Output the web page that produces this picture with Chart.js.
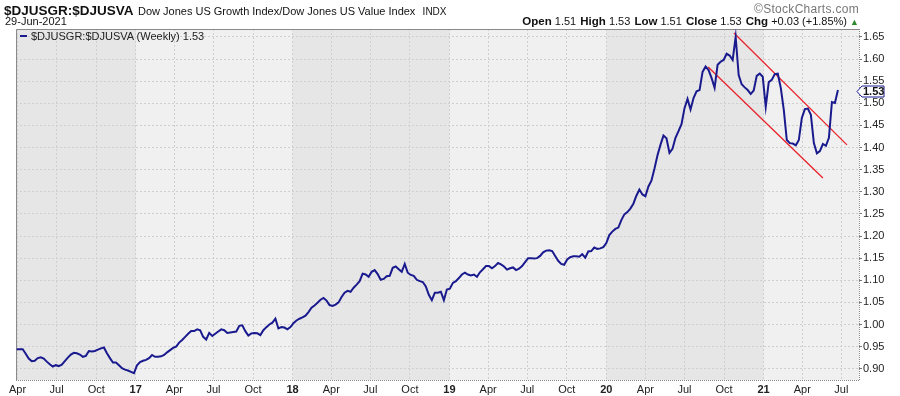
<!DOCTYPE html>
<html><head><meta charset="utf-8">
<script src="https://cdn.jsdelivr.net/npm/chart.js@4/dist/chart.umd.min.js"></script>
<style>
html,body{margin:0;padding:0;background:#fff;}
#wrap{position:relative;width:900px;height:396px;overflow:hidden;font-family:"Liberation Sans",Arial,sans-serif;color:#111;}
canvas{position:absolute;left:0;top:0;}
.abs{position:absolute;white-space:nowrap;line-height:1;}
.ohlc b{font-size:11.5px;margin-left:1px;}
</style></head><body>
<div id="wrap">
<canvas id="c" width="900" height="396"></canvas>
<div class="abs" style="left:4px;top:2px;"><b style="font-size:13.5px;">$DJUSGR:$DJUSVA</b> <span style="font-size:11px;">Dow Jones US Growth Index/Dow Jones US Value Index</span> <span style="font-size:10px;">&nbsp;INDX</span></div>
<div class="abs" style="left:5px;top:16px;font-size:11px;">29-Jun-2021</div>
<div class="abs" style="right:41px;top:3px;font-size:12px;color:#777;letter-spacing:0.3px;">©StockCharts.com</div>
<div class="abs ohlc" style="right:41px;top:16px;font-size:11px;"><b>Open</b> 1.51 <b>High</b> 1.53 <b>Low</b> 1.51 <b>Close</b> 1.53 <b>Chg</b> +0.03 (+1.85%) <span style="color:#2a8a2a;font-size:9px;">▲</span></div>
<div class="abs" style="left:20px;top:31px;font-size:11px;color:#222;"><span style="display:inline-block;width:7px;height:2px;background:#1a1a8f;vertical-align:3px;margin-right:4px;"></span>$DJUSGR:$DJUSVA (Weekly) 1.53</div>
</div>
<script>
// ---- data ----
const startDate = '2016-03-30';   // weekly series, one value per week from this date
const ratio = [
0.944,0.944,0.944,0.934,0.923,0.917,0.918,0.924,0.926,0.923,
0.916,0.910,0.905,0.908,0.906,0.909,0.917,0.925,0.932,0.936,
0.935,0.932,0.927,0.929,0.940,0.939,0.940,0.943,0.946,0.948,
0.935,0.924,0.914,0.914,0.908,0.901,0.898,0.896,0.893,0.890,
0.908,0.915,0.918,0.920,0.924,0.931,0.927,0.927,0.928,0.931,
0.937,0.942,0.947,0.950,0.959,0.965,0.972,0.979,0.985,0.985,
0.989,0.987,0.972,0.966,0.981,0.974,0.979,0.984,0.989,0.987,
0.981,0.982,0.983,0.984,0.997,0.998,0.985,0.975,0.980,0.981,
0.980,0.976,0.987,0.994,1.000,1.004,1.013,0.991,0.994,0.993,
0.989,0.994,1.003,1.009,1.013,1.016,1.020,1.028,1.038,1.043,
1.049,1.056,1.060,1.054,1.044,1.042,1.045,1.050,1.062,1.072,
1.076,1.074,1.083,1.090,1.098,1.115,1.113,1.108,1.119,1.123,
1.114,1.101,1.103,1.109,1.110,1.128,1.131,1.125,1.119,1.137,
1.117,1.112,1.110,1.101,1.098,1.096,1.086,1.067,1.055,1.072,
1.072,1.074,1.055,1.079,1.081,1.094,1.098,1.105,1.113,1.117,
1.113,1.111,1.113,1.108,1.118,1.125,1.132,1.132,1.127,1.132,
1.139,1.136,1.131,1.124,1.127,1.129,1.123,1.126,1.132,1.141,
1.150,1.150,1.149,1.150,1.155,1.163,1.167,1.168,1.166,1.155,
1.144,1.137,1.135,1.147,1.152,1.154,1.154,1.153,1.159,1.151,
1.165,1.166,1.174,1.171,1.172,1.175,1.184,1.202,1.210,1.216,
1.219,1.236,1.249,1.254,1.262,1.273,1.291,1.305,1.294,1.290,
1.312,1.325,1.352,1.382,1.406,1.427,1.421,1.388,1.397,1.422,
1.437,1.453,1.489,1.510,1.486,1.512,1.527,1.530,1.571,1.583,
1.575,1.557,1.535,1.587,1.594,1.598,1.612,1.608,1.598,1.650,
1.564,1.543,1.536,1.530,1.521,1.529,1.562,1.567,1.560,1.492,
1.548,1.553,1.566,1.567,1.535,1.485,1.417,1.410,1.409,1.405,
1.417,1.467,1.487,1.488,1.474,1.410,1.387,1.392,1.408,1.404,
1.422,1.503,1.501,1.530
];
const tickDates = [
'2016-04-01','2016-07-01','2016-10-01','2017-01-01','2017-04-01','2017-07-01','2017-10-01',
'2018-01-01','2018-04-01','2018-07-01','2018-10-01','2019-01-01','2019-04-01','2019-07-01','2019-10-01',
'2020-01-01','2020-04-01','2020-07-01','2020-10-01','2021-01-01','2021-04-01','2021-07-01'
];
const tickLabels = ['Apr','Jul','Oct','17','Apr','Jul','Oct','18','Apr','Jul','Oct','19','Apr','Jul','Oct','20','Apr','Jul','Oct','21','Apr','Jul'];
const yTicks = [0.90,0.95,1.00,1.05,1.10,1.15,1.20,1.25,1.30,1.35,1.40,1.45,1.50,1.55,1.60,1.65];
const upperChannel = [['2020-10-24',1.659],['2021-07-14',1.406]];
const lowerChannel = [['2020-08-25',1.582],['2021-05-19',1.331]];
const lastValue = 1.53;

// ---- helpers ----
const DAY = 86400000;
const t0 = Date.parse(startDate);
const dayOf = s => (Date.parse(s) - t0) / DAY;
const FONT = '"Liberation Sans", Arial, sans-serif';
const isYear = i => /^\d\d$/.test(tickLabels[i]);

const bgPlugin = {
  id: 'bgPlugin',
  beforeDraw(chart) {
    const {ctx, chartArea: a, scales: {x}} = chart;
    ctx.save();
    ctx.fillStyle = '#f0f0f0';
    ctx.fillRect(a.left, a.top, a.width, a.height);
    ctx.fillStyle = '#e6e6e6';
    const yrs = tickDates.filter((d, i) => isYear(i)).map(dayOf);
    const edges = [x.min, ...yrs, x.max];
    for (let k = 0; k + 1 < edges.length; k += 2) {
      const x1 = x.getPixelForValue(edges[k]), x2 = x.getPixelForValue(edges[k + 1]);
      ctx.fillRect(x1, a.top, x2 - x1, a.height);
    }
    ctx.restore();
  },
  beforeDatasetsDraw(chart) {
    const {ctx, chartArea: a} = chart;
    ctx.save();
    ctx.lineWidth = 1;
    ctx.strokeStyle = '#8a8a8a';
    ctx.beginPath();
    ctx.moveTo(a.left + 0.5, a.bottom); ctx.lineTo(a.left + 0.5, a.top + 0.5); ctx.lineTo(a.right, a.top + 0.5);
    ctx.stroke();
    ctx.setLineDash([1, 1]);
    ctx.beginPath();
    ctx.moveTo(a.right + 0.5, a.top); ctx.lineTo(a.right + 0.5, a.bottom + 0.5); ctx.lineTo(a.left, a.bottom + 0.5);
    ctx.stroke();
    ctx.restore();
  },
  afterDraw(chart) {
    const {ctx, scales: {y}, chartArea: a} = chart;
    const py = Math.round(y.getPixelForValue(lastValue)) + 1.5;
    const xl = a.right - 2;
    ctx.save();
    ctx.beginPath();
    ctx.moveTo(xl, py);
    ctx.lineTo(xl + 5, py - 5.5);
    ctx.lineTo(xl + 27, py - 5.5);
    ctx.lineTo(xl + 27, py + 5.5);
    ctx.lineTo(xl + 5, py + 5.5);
    ctx.closePath();
    ctx.fillStyle = '#ffffff';
    ctx.fill();
    ctx.strokeStyle = '#1a1a8f';
    ctx.lineWidth = 1;
    ctx.stroke();
    ctx.fillStyle = '#111';
    ctx.font = 'bold 11px ' + FONT;
    ctx.textBaseline = 'middle';
    ctx.fillText(lastValue.toFixed(2), xl + 6, py + 0.5);
    ctx.restore();
  }
};

const toPts = arr => arr.map(([d, v]) => ({x: dayOf(d), y: v}));

new Chart(document.getElementById('c'), {
  type: 'line',
  data: {
    datasets: [
      {data: ratio.map((v, i) => ({x: i * 7, y: v})), borderColor: '#1a1a8f', borderWidth: 2, pointRadius: 0, tension: 0, order: 1},
      {data: toPts(upperChannel), borderColor: '#e8232b', borderWidth: 1.3, pointRadius: 0, order: 2},
      {data: toPts(lowerChannel), borderColor: '#e8232b', borderWidth: 1.3, pointRadius: 0, order: 2}
    ]
  },
  options: {
    responsive: false,
    animation: false,
    events: [],
    layout: {padding: {left: 16, top: 29, right: 0, bottom: 0}},
    plugins: {legend: {display: false}, tooltip: {enabled: false}, title: {display: false}},
    scales: {
      x: {
        type: 'linear',
        min: -1.6,
        max: 1960,
        afterBuildTicks: s => { s.ticks = tickDates.map(d => ({value: dayOf(d)})); },
        afterFit: s => { s.height = 16; },
        ticks: {
          autoSkip: false, maxRotation: 0, padding: 3, color: '#222',
          callback: (v, i) => tickLabels[i],
          font: ctx => ({family: FONT, size: 11, weight: isYear(ctx.index) ? 'bold' : 'normal'})
        },
        grid: {color: '#cfcfcf', lineWidth: 1, drawTicks: false},
        border: {display: false, dash: [2, 2]}
      },
      y: {
        position: 'right',
        min: 0.8745,
        max: 1.668,
        afterBuildTicks: s => { s.ticks = yTicks.map(v => ({value: v})); },
        afterFit: s => { s.width = 41; },
        ticks: {padding: 1, color: '#222', font: {family: FONT, size: 11}, callback: v => v.toFixed(2)},
        grid: {color: '#cfcfcf', lineWidth: 1, tickLength: 3, tickColor: '#777', tickBorderDash: []},
        border: {display: false, dash: [2, 2]}
      }
    }
  },
  plugins: [bgPlugin]
});
</script>
</body></html>
